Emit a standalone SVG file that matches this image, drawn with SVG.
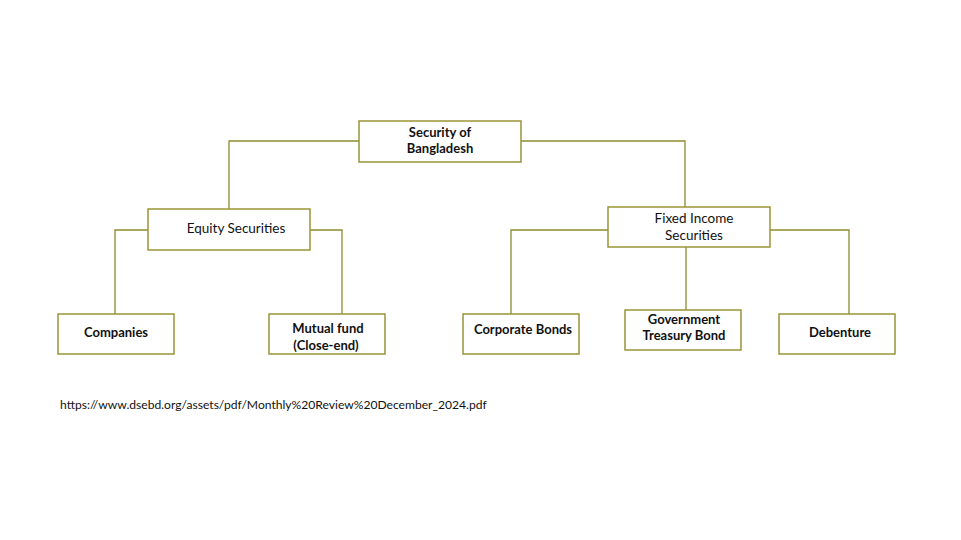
<svg xmlns="http://www.w3.org/2000/svg" width="961" height="540" viewBox="0 0 961 540">
  <style>
    .box { fill: #ffffff; stroke: #9a9538; stroke-width: 1.5; }
    .wire { fill: none; stroke: #8f8a2e; stroke-width: 1.3; }
    .t { font-family: Lato, "Open Sans", "Liberation Sans", sans-serif; font-size: 13.5px; fill: #111; text-anchor: middle; }
    .b { font-weight: bold; font-size: 13px; }
    .src { font-family: Lato, "Open Sans", "Liberation Sans", sans-serif; font-size: 12.1px; fill: #111; }
  </style>
  <rect width="961" height="540" fill="#ffffff"/>

  <g id="connectors">
    <polyline class="wire" points="359,141 229,141 229,209"/>
    <polyline class="wire" points="521,141 685,141 685,207"/>
    <polyline class="wire" points="148,230 115,230 115,314"/>
    <polyline class="wire" points="310,230 342,230 342,314"/>
    <polyline class="wire" points="608,230 511,230 511,314"/>
    <line class="wire" x1="686" y1="247" x2="686" y2="310"/>
    <polyline class="wire" points="770,230 849,230 849,314"/>
  </g>

  <g id="root">
    <rect class="box" x="359" y="121" width="162" height="41"/>
    <text class="t b" x="440" y="137">Security of</text>
    <text class="t b" x="440" y="153">Bangladesh</text>
  </g>

  <g id="equity">
    <rect class="box" x="148" y="209" width="162" height="41"/>
    <text class="t" x="236" y="233">Equity Securities</text>
  </g>

  <g id="fixed-income">
    <rect class="box" x="608" y="207" width="162" height="40"/>
    <text class="t" x="694" y="223">Fixed Income</text>
    <text class="t" x="694" y="240">Securities</text>
  </g>

  <g id="companies">
    <rect class="box" x="58" y="314" width="116" height="40"/>
    <text class="t b" x="116" y="337">Companies</text>
  </g>

  <g id="mutual-fund">
    <rect class="box" x="269" y="314" width="116" height="40"/>
    <text class="t b" x="328" y="333">Mutual fund</text>
    <text class="t b" x="326" y="350">(Close-end)</text>
  </g>

  <g id="corporate-bonds">
    <rect class="box" x="463" y="314" width="116" height="40"/>
    <text class="t b" x="523" y="334">Corporate Bonds</text>
  </g>

  <g id="treasury-bond">
    <rect class="box" x="625" y="310" width="116" height="40"/>
    <text class="t b" x="684" y="324">Government</text>
    <text class="t b" x="684" y="340">Treasury Bond</text>
  </g>

  <g id="debenture">
    <rect class="box" x="779" y="314" width="116" height="40"/>
    <text class="t b" x="840" y="337">Debenture</text>
  </g>

  <text class="src" x="60" y="409">https://www.dsebd.org/assets/pdf/Monthly%20Review%20December_2024.pdf</text>
</svg>
